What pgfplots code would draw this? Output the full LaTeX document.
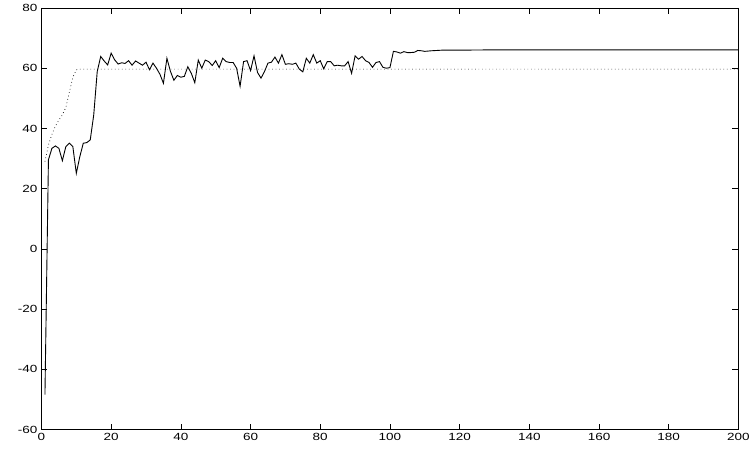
\documentclass[border=0pt]{standalone}
\usepackage{graphicx}
\usepackage{fontspec}
\setmainfont{Liberation Sans}
\usepackage{pgfplots}
\pgfplotsset{compat=1.18}
% reference labels look horizontally stretched
\newcommand{\wide}[1]{\scalebox{1.3}[1]{#1}}

\pgfplotstableread{
x y
1 -48.4
2 29.6
3 33.4
4 34.2
5 33.4
6 29.3
7 34
8 35.1
9 34
10 25.1
11 30.6
12 35.1
13 35.3
14 36.2
15 44.5
16 58.9
17 63.9
18 62.4
19 61.1
20 65
21 62.8
22 61.4
23 61.8
24 61.6
25 62.5
26 61
27 62.4
28 61.7
29 61
30 62
31 59.5
32 61.7
33 60
34 58
35 55
36 63.3
37 59
38 56
39 57.6
40 57
41 57.3
42 60.5
43 58.3
44 55.2
45 62.7
46 60
47 62.7
48 62.2
49 60.9
50 62.5
51 60.2
52 63.3
53 62.2
54 61.9
55 61.9
56 60
57 54
58 62.2
59 62.5
60 59.2
61 64.1
62 58.6
63 56.7
64 58.9
65 61.7
66 62
67 63.7
68 61.7
69 64.5
70 61.3
71 61.5
72 61.3
73 61.7
74 59.7
75 58.8
76 63.3
77 61.7
78 64.5
79 61.7
80 62.5
81 59.8
82 62.2
83 62.2
84 60.8
85 61
86 60.8
87 60.8
88 62.2
89 58.3
90 64.1
91 63
92 63.9
93 62.5
94 61.9
95 60.3
96 61.9
97 62.2
98 60.3
99 60
100 60.2
101 65.6
102 65.4
103 65
104 65.5
105 65.2
106 65.2
107 65.3
108 65.9
109 65.8
110 65.6
112 65.8
115 66
120 66
130 66.1
140 66.1
150 66.1
160 66.1
170 66.1
180 66.1
190 66.1
200 66.1
}\actual

\pgfplotstableread{
x y
1 29
2 34.5
3 38
4 40.8
5 42.8
6 44.5
7 47
8 52
9 57
10 59.5
11 59.7
200 59.7
}\reference

\begin{document}
\begin{tikzpicture}[x=1pt,y=1pt]
\begin{axis}[
  scale only axis,
  width=697.5pt, height=422pt,
  xmin=0, xmax=200, ymin=-60, ymax=80,
  xtick={0,20,...,200},
  ytick={-60,-40,...,80},
  yticklabels={–60,–40,–20,0,20,40,60,80},
  xticklabel={\wide{\pgfmathprintnumber{\tick}}},
  yticklabel={\wide{\axisdefaultticklabel}},
  /pgf/number format/assume math mode=true,
  tick label style={font=\fontsize{10.4}{11}\selectfont},
  xticklabel style={yshift=-0.5pt},
  yticklabel style={xshift=-0.5pt},
  tick align=inside,
  major tick length=6pt,
  tick style={black, line width=0.6pt},
  axis line style={black, line width=0.9pt},
  clip=false,
]
\addplot[black, line width=0.9pt] table {\actual};
\addplot[black, line width=0.7pt, dash pattern=on 0.7pt off 2.8pt] table {\reference};
\end{axis}
\path (current axis.south west) ++(-41.5pt,-22pt)
      (current axis.north east) ++(14pt,8pt);
\end{tikzpicture}
\end{document}
